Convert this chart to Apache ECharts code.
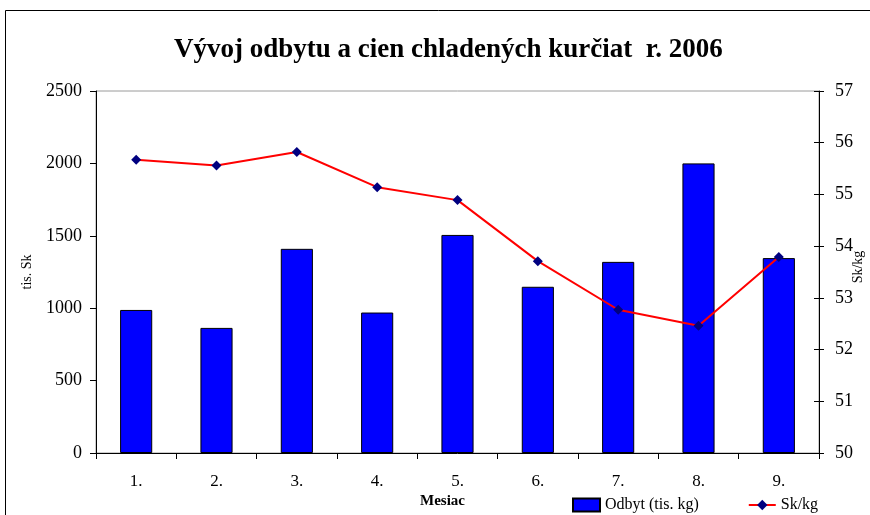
<!DOCTYPE html>
<html>
<head>
<meta charset="utf-8">
<script src="https://cdn.jsdelivr.net/npm/echarts@6/dist/echarts.min.js"></script>
<style>
  html, body { margin: 0; padding: 0; background: #fff; }
  #chart { width: 870px; height: 515px; }
</style>
</head>
<body>
<div id="chart"></div>
<script>
// months
const months = ['1.', '2.', '3.', '4.', '5.', '6.', '7.', '8.', '9.'];
// Odbyt (tis. kg) - left axis
const odbyt = [988, 864, 1410, 970, 1506, 1148, 1320, 2000, 1346];
// Sk/kg - right axis
const cena = [55.67, 55.56, 55.82, 55.14, 54.89, 53.71, 52.77, 52.46, 53.79];

const SERIF = '"Liberation Serif", "Times New Roman", serif';

const myChart = echarts.init(document.getElementById('chart'), null, { renderer: 'canvas' });

myChart.setOption({
	animation: false,
	backgroundColor: '#fff',
	textStyle: { fontFamily: SERIF },
	title: {
		text: 'Vývoj odbytu a cien chladených kurčiat  r. 2006',
		left: 169,
		top: 32,
		textStyle: {
			fontFamily: SERIF,
			fontSize: 27,
			fontWeight: 'bold',
			color: '#000'
		}
	},
	grid: {
		left: 96,
		right: 51,
		top: 91,
		bottom: 62,
		outerBoundsMode: 'none',
		containLabel: false,
		show: true,
		borderColor: '#9a9a9a',
		borderWidth: 1
	},
	legend: {
		left: 572,
		top: 497,
		padding: 0,
		itemWidth: 27,
		itemHeight: 13,
		itemGap: 49,
		textStyle: { fontFamily: SERIF, fontSize: 16, color: '#000' },
		data: [
			{ name: 'Odbyt (tis. kg)', icon: 'rect' },
			'Sk/kg'
		]
	},
	xAxis: {
		type: 'category',
		data: months,
		axisLine: { lineStyle: { color: '#000', width: 1 } },
		axisTick: { show: true, length: 6, lineStyle: { color: '#000' } },
		axisLabel: { color: '#000', fontSize: 17, fontFamily: SERIF, margin: 20 }
	},
	yAxis: [
		{
			type: 'value',
			min: 0,
			max: 2500,
			interval: 500,
			name: 'tis. Sk',
			nameLocation: 'middle',
			nameRotate: 90,
			nameGap: 62,
			nameMoveOverlap: false,
			nameTextStyle: { fontFamily: SERIF, fontSize: 14, color: '#000' },
			splitLine: { show: false },
			axisLine: { show: true, lineStyle: { color: '#000' } },
			axisTick: { show: true, length: 6, lineStyle: { color: '#000' } },
			axisLabel: {
				color: '#000',
				fontSize: 18,
				fontFamily: SERIF,
				margin: 14,
				formatter: function(v) { return String(v); }
			}
		},
		{
			type: 'value',
			min: 50,
			max: 57,
			interval: 1,
			name: 'Sk/kg',
			nameLocation: 'middle',
			nameRotate: 90,
			nameGap: 32,
			nameMoveOverlap: false,
			nameTextStyle: { fontFamily: SERIF, fontSize: 14, color: '#000', padding: [0, 0, 0, 10] },
			position: 'right',
			splitLine: { show: false },
			axisLine: { show: true, lineStyle: { color: '#000' } },
			axisTick: { show: true, length: 5, lineStyle: { color: '#000' } },
			axisLabel: { color: '#000', fontSize: 18, fontFamily: SERIF, margin: 16 }
		},
		{
			// only the inner half of the crossing ticks on the right axis
			type: 'value',
			min: 50,
			max: 57,
			interval: 1,
			position: 'right',
			splitLine: { show: false },
			axisLine: { show: false },
			axisTick: { show: true, inside: true, length: 5, lineStyle: { color: '#000' } },
			axisLabel: { show: false }
		}
	],
	series: [
		{
			name: 'Odbyt (tis. kg)',
			type: 'bar',
			yAxisIndex: 0,
			barWidth: '40%',
			itemStyle: { color: '#0000ff', borderColor: '#000', borderWidth: 1 },
			data: odbyt
		},
		{
			name: 'Sk/kg',
			type: 'line',
			yAxisIndex: 1,
			symbol: 'diamond',
			symbolSize: 10,
			lineStyle: { color: '#ff0000', width: 2 },
			itemStyle: { color: '#000080' },
			data: cena
		}
	],
	graphic: [
		{
			type: 'rect',
			shape: { x: 5.5, y: 10.5, width: 900, height: 530 },
			style: { fill: 'none', stroke: '#000', lineWidth: 1 },
			silent: true
		},
		{
			type: 'text',
			left: 420,
			top: 494,
			style: {
				text: 'Mesiac',
				font: 'bold 15px ' + SERIF,
				fill: '#000'
			}
		}
	]
});
</script>
</body>
</html>
